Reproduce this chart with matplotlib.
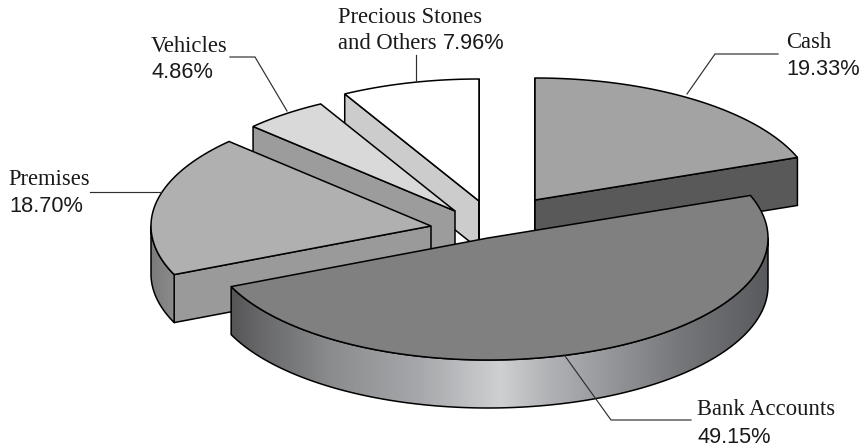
import numpy as np
import matplotlib
matplotlib.use("Agg")
import matplotlib.pyplot as plt
from matplotlib.colors import LinearSegmentedColormap
from matplotlib.patches import Polygon

# Asset shares, clockwise from twelve o'clock
assets = ["Cash", "Bank Accounts", "Premises", "Vehicles", "Precious Stones and Others"]
shares = [19.33, 49.15, 18.70, 4.86, 7.96]

# Drawing style for each wedge, in the same order
top_colors = ["#a3a3a3", "#808080", "#b0b0b0", "#d9d9d9", "#ffffff"]
face_colors = ["#595959", "#808080", "#9a9a9a", "#9c9c9c", "#cccccc"]
explode = [(52, -25), (5, 13), (-52, 1), (-28, -14), (-4, -24)]
draw_order = [4, 3, 0, 2, 1]

CENTER = (483, 225)
RX, RY = 280, 122
DEPTH = 48
EDGE = 1.1

wall_ramps = {
    1: [(230, "#555558"), (260, "#68686b"), (330, "#8b8c8e"), (420, "#a7a8ab"),
        (500, "#cfd0d2"), (550, "#b0b1b4"), (600, "#9a9b9f"), (680, "#76777a"),
        (768, "#585a5e")],
    2: [(150, "#7a7a7a"), (175, "#8c8c8c")],
}

fig = plt.figure(figsize=(8.63, 4.48), dpi=100)
ax = fig.add_axes([0, 0, 1, 1])


def rim(cx, cy, angles_deg):
    t = np.radians(angles_deg)
    return np.column_stack([cx + RX * np.sin(t), cy - RY * np.cos(t)])


def gradient_wall(points, ramp, zorder):
    xs = [p[0] for p in ramp]
    lo, hi = xs[0], xs[-1]
    stops = [((x - lo) / (hi - lo), c) for x, c in ramp]
    cmap = LinearSegmentedColormap.from_list("wall", stops, N=256)
    ys = points[:, 1]
    img = ax.imshow(np.linspace(0, 1, 512)[None, :], cmap=cmap, aspect="auto",
                    extent=(lo, hi, ys.max(), ys.min()), zorder=zorder,
                    interpolation="bilinear")
    clip = Polygon(points, closed=True, transform=ax.transData)
    img.set_clip_path(clip)
    ax.add_patch(Polygon(points, closed=True, facecolor="none", edgecolor="black",
                         lw=EDGE, joinstyle="round", zorder=zorder + 0.1))


bounds = np.concatenate([[0], np.cumsum(shares) * 3.6])
z = 1
for i in draw_order:
    start, end = bounds[i], bounds[i + 1]
    cx, cy = CENTER[0] + explode[i][0], CENTER[1] + explode[i][1]
    apex = np.array([cx, cy])
    shift = np.array([0, DEPTH])

    # Cut faces that look towards the viewer
    for theta, sign in ((start, -1), (end, 1)):
        normal = np.radians(theta + sign * 90)
        if np.cos(normal) < 1e-6:
            p = rim(cx, cy, [theta])[0]
            ax.add_patch(Polygon([apex, p, p + shift, apex + shift], closed=True,
                                 facecolor=face_colors[i], edgecolor="black",
                                 lw=EDGE, zorder=z))
            z += 1

    # Outer wall on the near half of the ellipse
    a0, a1 = max(start, 90), min(end, 270)
    if a1 > a0:
        arc = rim(cx, cy, np.linspace(a0, a1, 200))
        wall = np.vstack([arc, (arc + shift)[::-1]])
        gradient_wall(wall, wall_ramps[i], z)
        z += 1

    # Top surface
    top = np.vstack([apex, rim(cx, cy, np.linspace(start, end, 300))])
    ax.add_patch(Polygon(top, closed=True, facecolor=top_colors[i], edgecolor="black",
                         lw=EDGE, joinstyle="miter", zorder=z))
    z += 1

# Leader lines
leaders = [
    [(778, 54), (715, 54), (687, 94)],
    [(691, 420), (611, 420), (565, 356)],
    [(90, 192), (161, 192)],
    [(230, 57), (255, 57), (287, 111)],
    [(416, 55), (416, 81)],
]
for path in leaders:
    xs, ys = zip(*path)
    ax.plot(xs, ys, color="#2e2e2e", lw=0.85, zorder=z, solid_joinstyle="miter")

SERIF = dict(family="Liberation Serif", fontsize=16.3, color="#1a1a1a", va="baseline", ha="left")
SANS = dict(family="Liberation Sans", fontsize=15.7, color="#1a1a1a", va="baseline", ha="left")


def pct(value):
    return f"{value:.2f}%"


ax.text(786, 48, "Cash", **SERIF)
ax.text(786, 75, pct(shares[0]), **SANS)
ax.text(697, 415, "Bank Accounts", **SERIF)
ax.text(697, 443, pct(shares[1]), **SANS)
ax.text(8, 185, "Premises", **SERIF)
ax.text(9, 212, pct(shares[2]), **SANS)
ax.text(151, 52, "Vehicles", **SERIF)
ax.text(151, 78, pct(shares[3]), **SANS)
ax.text(338, 23, "Precious Stones", **SERIF)
ax.text(338, 49, "and Others", **SERIF)
ax.text(443, 49, pct(shares[4]), **SANS)

ax.set_xlim(0, 863)
ax.set_ylim(448, 0)
ax.axis("off")
fig.savefig("out.png", dpi=100, facecolor="white")
